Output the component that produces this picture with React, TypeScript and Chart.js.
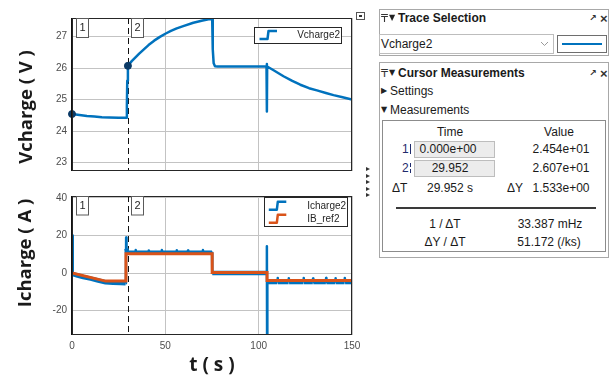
import React, { useEffect, useRef } from "react";
import { Chart, registerables } from "chart.js";

Chart.register(...registerables);

// ---------------- data ----------------
const xTicks = [0, 50, 100, 150];
const vTicks = [23, 24, 25, 26, 27];
const iTicks = [-20, 0, 20, 40];

const cursorLabels = ["1", "2"];
const cursorTimes = [0, 29.952];
const cursorValues = [24.54, 26.07];

const vName = "Vcharge2";
const vTime = [
  0, 4, 8, 12, 16, 20, 25, 29.2, 29.4, 29.6, 29.95, 31, 32, 34, 36, 38.2, 41, 44, 47.1, 50, 53, 56.1, 60,
  65, 70, 75.1, 75.3, 75.5, 75.9, 76.6, 78, 104.2, 104.35, 104.45, 104.55, 108, 113.3, 118, 122.3,
  127, 131.2, 136, 140.1, 145, 150,
];
const vValue = [
  24.54, 24.51, 24.48, 24.46, 24.44, 24.43, 24.42, 24.42, 24.8, 25.6, 26.07, 26.15, 26.22, 26.34, 26.46,
  26.58, 26.73, 26.87, 26.99, 27.09, 27.18, 27.26, 27.34, 27.44, 27.51, 27.57, 27.3, 26.6, 26.15, 26.06,
  26.05, 26.05, 26.13, 24.62, 26.05, 25.93, 25.74, 25.59, 25.47, 25.36, 25.29, 25.21, 25.14, 25.07, 25.0,
];

const iName = "Icharge2";
const iTime = [
  0, 0.3, 0.4, 3, 6, 10, 14, 18, 22, 26, 28.7, 28.9, 29.0, 29.2, 29.5,
  34, 34.15, 34.3, 41, 41.15, 41.3, 48, 48.15, 48.3, 56, 56.15, 56.3, 62, 62.15, 62.3, 70, 70.15, 70.3,
  75, 75.15, 104.3, 104.4, 104.5, 104.65,
  110, 110.15, 110.3, 116, 116.15, 116.3, 124, 124.15, 124.3, 129, 129.15, 129.3, 136, 136.15, 136.3,
  141, 141.15, 141.3, 146, 146.15, 146.3, 150,
];
const iValue = [
  20, 20, -0.6, -1.3, -2.1, -3.0, -4.0, -4.9, -5.2, -5.3, -5.4, -4.5, 18.9, 13, 10.8,
  10.8, 12.2, 10.8, 10.8, 12.0, 10.8, 10.8, 12.2, 10.8, 10.8, 12.1, 10.8, 10.8, 12.0, 10.8, 10.8, 12.2, 10.8,
  10.8, 0, 0, 14.2, -33, -4.8,
  -4.8, -2.6, -4.8, -4.8, -2.8, -4.8, -4.8, -2.7, -4.8, -4.8, -2.9, -4.8, -4.8, -2.6, -4.8,
  -4.8, -2.8, -4.8, -4.8, -2.7, -4.8, -4.8,
];

const refName = "IB_ref2";
const refTime = [0, 18, 28.9, 28.9, 75.1, 75.1, 104.5, 104.5, 150];
const refValue = [0, -4.3, -4.3, 10.2, 10.2, 0.3, 0.3, -4.0, -4.0];

// ---------------- styles ----------------
const BLUE = "#0072BD";
const ORANGE = "#D95319";
const MARKER = "#0B3A66";
const GRID = "#c3c3c3";
const FRAME = "#262626";
const TICK = "#4d4d4d";
const SANS = "'Liberation Sans', Arial, sans-serif";
const TITLE_FONT = "'Open Sans', 'Noto Sans', sans-serif";

const pts = (xs: number[], ys: number[]) => xs.map((x, i) => ({ x, y: ys[i] }));

const overlayPlugin = {
  id: "scopeOverlay",
  beforeDatasetsDraw(chart: any) {
    const { ctx, chartArea: a, scales } = chart;
    const x = scales.x;
    ctx.save();
    ctx.strokeStyle = "#111";
    ctx.lineWidth = 1;
    ctx.setLineDash([6, 4]);
    const p2 = Math.round(x.getPixelForValue(cursorTimes[1])) + 0.5;
    ctx.beginPath();
    ctx.moveTo(p2, a.top);
    ctx.lineTo(p2, a.bottom);
    ctx.stroke();
    ctx.restore();
  },
  afterDatasetsDraw(chart: any, _a: any, o: any) {
    const { ctx, chartArea: a, scales } = chart;
    const x = scales.x;
    ctx.save();
    ctx.setLineDash([]);
    ctx.lineWidth = 1;
    ctx.strokeStyle = FRAME;
    ctx.strokeRect(a.left + 0.5, a.top + 0.5, a.width - 1, a.height - 1);
    const p1 = Math.round(x.getPixelForValue(cursorTimes[0])) - 0.5;
    ctx.strokeStyle = "#111";
    ctx.beginPath();
    ctx.moveTo(p1, a.top);
    ctx.lineTo(p1, a.bottom);
    ctx.stroke();
    cursorLabels.forEach((lab, i) => {
      const px = x.getPixelForValue(cursorTimes[i]);
      const bx = Math.round(px) + o.labelDx[i] + 0.5;
      const by = Math.round(a.top) + 0.5;
      ctx.fillStyle = "#fff";
      ctx.fillRect(bx, by, 12, o.labelH);
      ctx.strokeStyle = "#5a5a5a";
      ctx.strokeRect(bx, by, 12, o.labelH);
      ctx.fillStyle = "#262626";
      ctx.font = `11px ${SANS}`;
      ctx.textAlign = "center";
      ctx.textBaseline = "middle";
      ctx.fillText(lab, bx + 6, by + o.labelH / 2);
    });
    const L = o.legend;
    const lx = Math.round(a.right - L.fromRight) + 0.5;
    const ly = Math.round(a.top + L.top) + 0.5;
    ctx.fillStyle = "#fff";
    ctx.fillRect(lx, ly, L.w, L.h);
    ctx.strokeStyle = FRAME;
    ctx.lineWidth = 1;
    ctx.strokeRect(lx, ly, L.w, L.h);
    L.rows.forEach((r: any, i: number) => {
      const cy = ly + L.rowY[i];
      const x0 = lx + L.iconX;
      ctx.strokeStyle = r.color;
      ctx.lineWidth = 2.5;
      ctx.lineJoin = "round";
      ctx.beginPath();
      ctx.moveTo(x0, cy + 4);
      ctx.lineTo(x0 + 8, cy + 4);
      ctx.lineTo(x0 + 9, cy - 4);
      ctx.lineTo(x0 + 17.5, cy - 4);
      ctx.stroke();
      ctx.fillStyle = "#262626";
      ctx.font = `10px ${SANS}`;
      ctx.textAlign = "left";
      ctx.textBaseline = "middle";
      ctx.fillText(r.label, lx + L.textX, cy);
    });
    ctx.restore();
  },
};

const tickFont = { family: SANS, size: 10 };

function topConfig(): any {
  return {
    type: "line",
    data: {
      datasets: [
        {
          label: "cursors",
          data: pts(cursorTimes, cursorValues),
          showLine: false,
          pointRadius: 3.5,
          pointBackgroundColor: MARKER,
          pointBorderColor: MARKER,
          clip: false,
          order: 0,
        },
        {
          label: vName,
          data: pts(vTime, vValue),
          borderColor: BLUE,
          borderWidth: 2.5,
          borderJoinStyle: "round",
          pointRadius: 0,
          tension: 0,
          order: 1,
        },
      ],
    },
    options: {
      responsive: false,
      animation: false,
      devicePixelRatio: 1,
      layout: { padding: { left: 0, top: 18, right: 18, bottom: 0 } },
      plugins: {
        legend: { display: false },
        tooltip: { enabled: false },
        scopeOverlay: {
          labelDx: [4, 3],
          labelH: 19,
          legend: {
            fromRight: 98, w: 87, top: 9, h: 16, rowY: [7.5], iconX: 5, textX: 42.7,
            rows: [{ label: vName, color: BLUE }],
          },
        },
      },
      scales: {
        x: {
          type: "linear",
          min: 0,
          max: 150,
          afterBuildTicks: (s: any) => { s.ticks = xTicks.map((v) => ({ value: v })); },
          ticks: { display: false },
          grid: { color: GRID, drawTicks: false },
          border: { display: false },
          afterFit: (s: any) => { s.height = 10; },
        },
        y: {
          type: "linear",
          min: 22.73,
          max: 27.59,
          afterBuildTicks: (s: any) => { s.ticks = vTicks.map((v) => ({ value: v })); },
          ticks: { color: TICK, font: tickFont, padding: 5 },
          grid: { color: GRID, drawTicks: false },
          border: { display: false },
          afterFit: (s: any) => { s.width = 72; },
        },
      },
    },
    plugins: [overlayPlugin],
  };
}

function bottomConfig(): any {
  return {
    type: "line",
    data: {
      datasets: [
        {
          label: iName,
          data: pts(iTime, iValue),
          borderColor: BLUE,
          borderWidth: 4.5,
          borderJoinStyle: "round",
          segment: {
            borderWidth: (c: any) => (Math.abs(c.p1.parsed.x - c.p0.parsed.x) < 0.2 ? 2.5 : 4.5),
          },
          pointRadius: 0,
          tension: 0,
          order: 2,
        },
        {
          label: refName,
          data: pts(refTime, refValue),
          borderColor: ORANGE,
          borderWidth: 3,
          pointRadius: 0,
          tension: 0,
          order: 1,
        },
      ],
    },
    options: {
      responsive: false,
      animation: false,
      devicePixelRatio: 1,
      layout: { padding: { left: 0, top: 8, right: 18, bottom: 0 } },
      plugins: {
        legend: { display: false },
        tooltip: { enabled: false },
        scopeOverlay: {
          labelDx: [4, 3],
          labelH: 18.5,
          legend: {
            fromRight: 88, w: 83, top: 1, h: 29, rowY: [8.3, 21.3], iconX: 4.3, textX: 42.7,
            rows: [
              { label: iName, color: BLUE },
              { label: refName, color: ORANGE },
            ],
          },
        },
      },
      scales: {
        x: {
          type: "linear",
          min: 0,
          max: 150,
          afterBuildTicks: (s: any) => { s.ticks = xTicks.map((v) => ({ value: v })); },
          ticks: { color: TICK, font: tickFont, padding: 5, maxRotation: 0 },
          grid: { color: GRID, drawTicks: false },
          border: { display: false },
          title: {
            display: true,
            text: "t ( s )",
            color: "#1a1a1a",
            font: { family: TITLE_FONT, size: 19, weight: "bold", lineHeight: 1 },
            padding: { top: 0, bottom: 1 },
          },
          afterFit: (s: any) => { s.height = 41; },
        },
        y: {
          type: "linear",
          min: -33,
          max: 41,
          afterBuildTicks: (s: any) => { s.ticks = iTicks.map((v) => ({ value: v })); },
          ticks: { color: TICK, font: tickFont, padding: 5 },
          grid: { color: GRID, drawTicks: false },
          border: { display: false },
          afterFit: (s: any) => { s.width = 72; },
        },
      },
    },
    plugins: [overlayPlugin],
  };
}

// ---------------- html helpers ----------------
const abs = (l: number, t: number, w: number, h: number, extra: any = {}) => ({
  position: "absolute" as const,
  left: l,
  top: t,
  width: w,
  height: h,
  boxSizing: "border-box" as const,
  ...extra,
});

function Txt(props: {
  x: number; y: number; a?: "left" | "center" | "right"; s?: number; w?: number | string;
  c?: string; f?: string; children: any;
}) {
  const { x, y, a = "left", s = 12, w = 400, c = "#1a1a1a", f = SANS, children } = props;
  const tx = a === "left" ? "0" : a === "center" ? "-50%" : "-100%";
  return (
    <div
      style={{
        position: "absolute", left: x, top: y, transform: `translate(${tx},-50%)`,
        fontSize: s, fontWeight: w as any, color: c, fontFamily: f, whiteSpace: "nowrap", lineHeight: 1,
      }}
    >
      {children}
    </div>
  );
}

function RotTitle(props: { x: number; y: number; children: any }) {
  return (
    <div
      style={{
        position: "absolute", left: props.x, top: props.y,
        transform: "translate(-50%,-50%) rotate(-90deg)",
        fontFamily: TITLE_FONT, fontWeight: 700, fontSize: 18.5, color: "#1a1a1a",
        whiteSpace: "nowrap", lineHeight: 1,
      }}
    >
      {props.children}
    </div>
  );
}

function PanelHeader(props: { y: number; title: string }) {
  const { y, title } = props;
  return (
    <>
      <Txt x={381} y={y} s={11} f="'DejaVu Sans', sans-serif" c="#333">₸</Txt>
      <Txt x={389} y={y} s={8} f="'DejaVu Sans', sans-serif" c="#222">▼</Txt>
      <Txt x={398} y={y} s={12} w={700}>{title}</Txt>
      <Txt x={589} y={y} s={9} w={700} f="'DejaVu Sans', sans-serif" c="#333">↗</Txt>
      <Txt x={600} y={y} s={13} w={700} c="#333">×</Txt>
    </>
  );
}

export default function App() {
  const topRef = useRef<HTMLCanvasElement>(null);
  const botRef = useRef<HTMLCanvasElement>(null);

  useEffect(() => {
    const c1 = new Chart(topRef.current as HTMLCanvasElement, topConfig());
    const c2 = new Chart(botRef.current as HTMLCanvasElement, bottomConfig());
    return () => {
      c1.destroy();
      c2.destroy();
    };
  }, []);

  return (
    <div style={{ position: "absolute", left: 0, top: 0, width: 609, height: 376, background: "#fff", overflow: "hidden" }}>
      <canvas ref={topRef} width={370} height={182} style={{ position: "absolute", left: 0, top: 0, width: 370, height: 182 }} />
      <canvas ref={botRef} width={370} height={191} style={{ position: "absolute", left: 0, top: 185, width: 370, height: 191 }} />

      <RotTitle x={25} y={107}>Vcharge ( V )</RotTitle>
      <RotTitle x={24} y={253}>Icharge ( A )</RotTitle>

      <div style={abs(356, 12, 9, 8, { border: "1px solid #555", background: "#fff" })}>
        <div style={abs(2, 2, 3, 2, { background: "#333" })} />
      </div>
      {[0, 1, 2, 3, 4].map((i) => (
        <div
          key={i}
          style={{
            position: "absolute", left: 366, top: 167 + i * 6.5, width: 0, height: 0,
            borderLeft: "4px solid #333", borderTop: "2.5px solid transparent", borderBottom: "2.5px solid transparent",
          }}
        />
      ))}

      {/* Trace Selection panel */}
      <div style={abs(379, 9, 230, 47, { border: "1px solid #a8a8a8", background: "#fff" })} />
      <PanelHeader y={18} title="Trace Selection" />
      <div style={abs(379, 34, 175, 20, { border: "1px solid #bdbdbd", background: "#fff" })} />
      <Txt x={381} y={44} s={12}>Vcharge2</Txt>
      <svg style={{ position: "absolute", left: 540, top: 41 }} width={9} height={6}>
        <polyline points="1,1 4.5,4.5 8,1" fill="none" stroke="#9a9a9a" strokeWidth={1} />
      </svg>
      <div style={abs(557, 35, 50, 18, { border: "1px solid #6e6e6e", background: "#fff" })}>
        <div style={abs(4, 7, 40, 2, { background: BLUE })} />
      </div>

      {/* Cursor Measurements panel */}
      <div style={abs(379, 62, 230, 196, { border: "1px solid #a8a8a8", background: "#fff" })} />
      <PanelHeader y={73} title="Cursor Measurements" />
      <Txt x={381} y={91} s={8} f="'DejaVu Sans', sans-serif" c="#222">▶</Txt>
      <Txt x={390} y={91} s={12}>Settings</Txt>
      <Txt x={381} y={110} s={8} f="'DejaVu Sans', sans-serif" c="#222">▼</Txt>
      <Txt x={390} y={110} s={12}>Measurements</Txt>
      <div style={abs(382, 120, 224, 132, { border: "1px solid #8c8c8c", background: "#fff" })} />

      <Txt x={450} y={131.7} a="center">Time</Txt>
      <Txt x={559} y={131.7} a="center">Value</Txt>

      <div style={abs(414, 140.5, 81, 17, { border: "1px solid #bdbdbd", background: "#ececec" })} />
      <div style={abs(414, 159.5, 81, 17.5, { border: "1px solid #bdbdbd", background: "#ececec" })} />

      <Txt x={402} y={149} c="#1f2a6b">1</Txt>
      <div style={abs(410, 144, 1, 10, { background: "#1f2a6b" })} />
      <Txt x={448} y={149} a="center">0.000e+00</Txt>
      <Txt x={561} y={149} a="center">2.454e+01</Txt>

      <Txt x={402} y={168} c="#1f2a6b">2</Txt>
      <div style={abs(410, 163, 1, 4, { background: "#1f2a6b" })} />
      <div style={abs(410, 168.5, 1, 4, { background: "#1f2a6b" })} />
      <Txt x={450} y={168} a="center">29.952</Txt>
      <Txt x={561} y={168} a="center">2.607e+01</Txt>

      <Txt x={392} y={188.3}>ΔT</Txt>
      <Txt x={450} y={188.3} a="center">29.952 s</Txt>
      <Txt x={507} y={188.3}>ΔY</Txt>
      <Txt x={561} y={188.3} a="center">1.533e+00</Txt>

      <div style={abs(396, 206.5, 200, 2, { background: "#3a3a3a" })} />

      <Txt x={445} y={223.7} a="center">1 / ΔT</Txt>
      <Txt x={550} y={223.7} a="center">33.387 mHz</Txt>
      <Txt x={445} y={241.5} a="center">ΔY / ΔT</Txt>
      <Txt x={549} y={241.5} a="center">51.172 (/ks)</Txt>
    </div>
  );
}
